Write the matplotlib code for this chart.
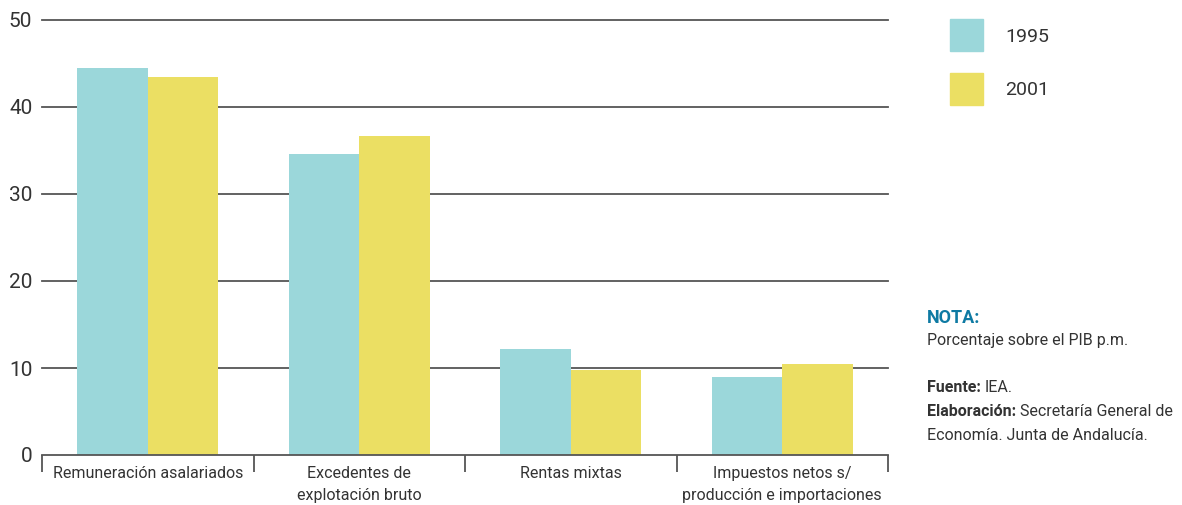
import matplotlib

matplotlib.use("Agg")
import matplotlib.pyplot as plt
import numpy as np

categories = [
    "Remuneración asalariados",
    "Excedentes de\nexplotación bruto",
    "Rentas mixtas",
    "Impuestos netos s/\nproducción e importaciones",
]
values_1995 = [44.5, 34.6, 12.2, 9.0]
values_2001 = [43.4, 36.7, 9.8, 10.5]
series_labels = ["1995", "2001"]
y_ticks = [0, 10, 20, 30, 40, 50]

CYAN = "#9bd7da"
YELLOW = "#ebdf63"
GRID = "#555555"
TEXT = "#333333"

plt.rcParams["font.family"] = ["Roboto", "DejaVu Sans"]

fig = plt.figure(figsize=(11.82, 5.05), dpi=100)
ax = fig.add_axes([42 / 1182, 50 / 505, 846 / 1182, 435 / 505])

x = np.arange(len(categories))
w = 1 / 3
ax.bar(x - w / 2, values_1995, width=w, color=CYAN, zorder=3, label=series_labels[0])
ax.bar(x + w / 2, values_2001, width=w, color=YELLOW, zorder=3, label=series_labels[1])

ax.set_xlim(-0.5, len(categories) - 0.5)
ax.set_ylim(0, 50)

# gridlines behind bars
for yv in y_ticks[1:]:
    ax.axhline(yv, color=GRID, linewidth=1.3, zorder=1, clip_on=False)

for s in ["top", "right", "left"]:
    ax.spines[s].set_visible(False)
ax.spines["bottom"].set_color(GRID)
ax.spines["bottom"].set_linewidth(1.3)
ax.spines["bottom"].set_zorder(4)

ax.set_yticks(y_ticks)
ax.set_yticklabels([str(v) for v in y_ticks], fontsize=15, color=TEXT)
ax.tick_params(axis="y", length=0, pad=7)

# boundary ticks as major, labels on minor ticks
ax.set_xticks(np.arange(-0.5, len(categories)), [""] * (len(categories) + 1))
ax.tick_params(axis="x", which="major", direction="out", length=12, width=1.3, color=GRID)
ax.set_xticks(x, categories, minor=True)
ax.tick_params(axis="x", which="minor", length=0, pad=8, labelsize=11.5, labelcolor=TEXT)
for lbl in ax.get_xticklabels(minor=True):
    lbl.set_linespacing(1.6)

# legend squares
fig.patches.append(plt.Rectangle((950 / 1182, 1 - 51 / 505), 33 / 1182, 32 / 505,
                                 transform=fig.transFigure, color=CYAN))
fig.patches.append(plt.Rectangle((950 / 1182, 1 - 105 / 505), 33 / 1182, 32 / 505,
                                 transform=fig.transFigure, color=YELLOW))
fig.text(1005 / 1182, 1 - 37 / 505, series_labels[0], fontsize=14, color=TEXT, va="center")
fig.text(1005 / 1182, 1 - 90 / 505, series_labels[1], fontsize=14, color=TEXT, va="center")

# notes
nx = 927 / 1182
note_size = 11.5
fig.text(nx, 1 - 318 / 505, "NOTA:", fontsize=13, fontweight="bold", color="#0e7aa3", va="center")
fig.text(nx, 1 - 341 / 505, "Porcentaje sobre el PIB p.m.", fontsize=note_size, color=TEXT, va="center")

renderer = fig.canvas.get_renderer()


def bold_then_regular(y_px, bold, regular):
    b = fig.text(nx, 1 - y_px / 505, bold, fontsize=note_size, fontweight="bold",
                 color=TEXT, va="center")
    bb = b.get_window_extent(renderer=renderer)
    fig.text(bb.x1 / fig.bbox.width + 4 / 1182, 1 - y_px / 505, regular,
             fontsize=note_size, color=TEXT, va="center")


bold_then_regular(388, "Fuente:", "IEA.")
bold_then_regular(412, "Elaboración:", "Secretaría General de")
fig.text(nx, 1 - 436 / 505, "Economía. Junta de Andalucía.", fontsize=note_size, color=TEXT, va="center")

fig.savefig("out.png", dpi=100)
